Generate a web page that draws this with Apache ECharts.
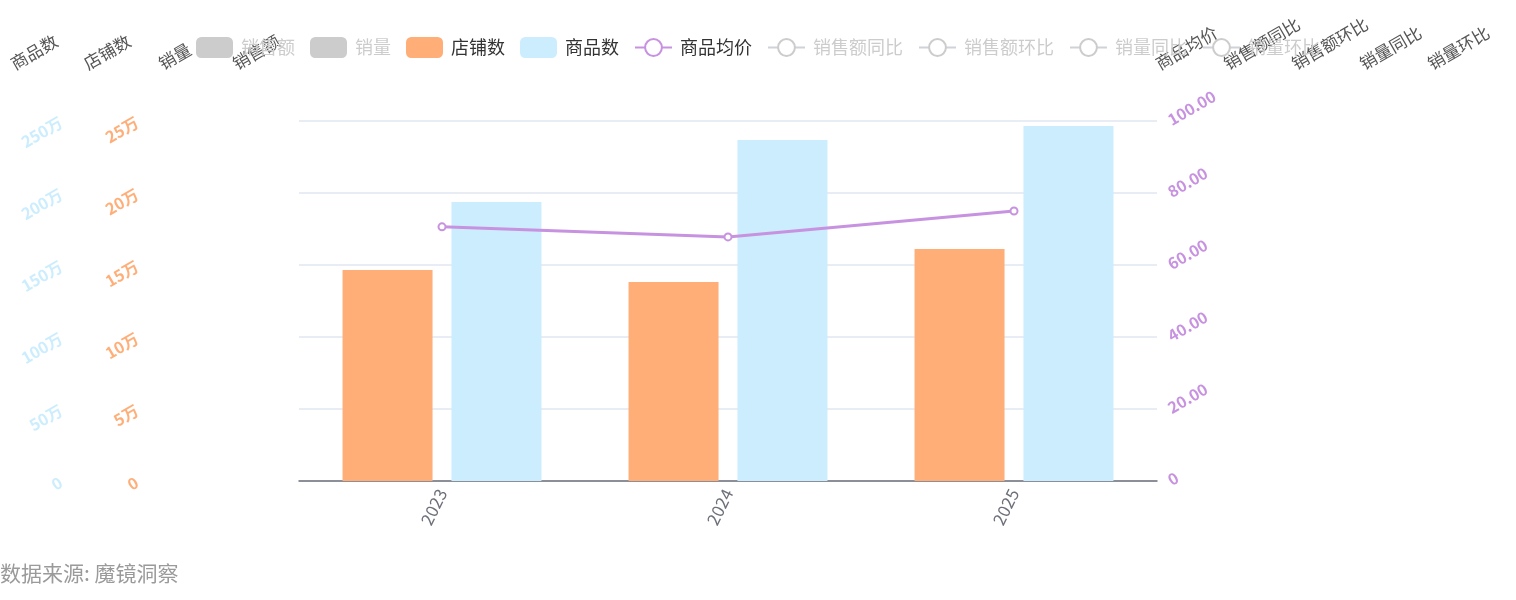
<!DOCTYPE html>
<html>
<head>
<meta charset="utf-8">
<script src="https://cdn.jsdelivr.net/npm/echarts@6/dist/echarts.min.js"></script>
<style>html,body{margin:0;padding:0;background:#fff}#c{width:1516px;height:600px}</style>
</head>
<body>
<div id="c"></div>
<script>
const years = ['2023', '2024', '2025'];
const salesAmount = [];      // 销售额 (hidden in legend)
const salesVolume = [];      // 销量 (hidden in legend)
const shopCount = [146500, 138200, 161100];        // 店铺数
const productCount = [1937000, 2368000, 2465000];  // 商品数
const avgPrice = [70.6, 67.8, 75.0];               // 商品均价
const amountYoY = [];   // 销售额同比 (hidden)
const amountMoM = [];   // 销售额环比 (hidden)
const volumeYoY = [];   // 销量同比 (hidden)
const volumeMoM = [];   // 销量环比 (hidden)

const FONT = '"Noto Sans CJK SC", "Noto Sans", sans-serif';
const C_SHOP = '#ffae78';
const C_PROD = '#ccedfd';
const C_PRICE = '#c792e0';
const NAME_COLOR = '#555';

function wan(v) { return v === 0 ? '0' : (v / 10000) + '万'; }
function dec2(v) { return v === 0 ? '0' : v.toFixed(2); }

function yAxisDef(pos, name, offset, extra) {
  return Object.assign({
    type: 'value', position: pos, offset: offset, name: name,
    nameLocation: 'end', nameGap: 56, nameRotate: 30,
    nameTextStyle: { color: NAME_COLOR, fontSize: 17, fontFamily: FONT },
    axisLine: { show: false }, axisTick: { show: false }, splitLine: { show: false },
    axisLabel: { show: false }
  }, extra || {});
}

const chart = echarts.init(document.getElementById('c'));
chart.setOption({
  animation: false,
  textStyle: { fontFamily: FONT },
  title: {
    text: '数据来源: 魔镜洞察', left: 0, top: 563, padding: 0,
    textStyle: { fontSize: 21, color: '#9a9a9a', fontWeight: 'normal', fontFamily: FONT }
  },
  legend: {
    top: 32, left: 'center', itemWidth: 37, itemHeight: 21, itemGap: 15,
    textStyle: { fontSize: 18, color: '#333', fontFamily: FONT, padding: [0, 0, 0, 3] },
    inactiveColor: '#ccc',
    data: ['销售额', '销量', '店铺数', '商品数', '商品均价', '销售额同比', '销售额环比', '销量同比', '销量环比'],
    selected: { '销售额': false, '销量': false, '销售额同比': false, '销售额环比': false, '销量同比': false, '销量环比': false }
  },
  grid: { left: 299, right: 359, top: 121, bottom: 119, containLabel: false },
  xAxis: {
    type: 'category', data: years,
    axisLine: { lineStyle: { color: '#6e7079', width: 1.5 } },
    axisTick: { alignWithLabel: true, lineStyle: { color: '#6e7079' } },
    axisLabel: { rotate: 64, color: '#6e7079', fontSize: 17, fontFamily: FONT, margin: 9 }
  },
  yAxis: [
    yAxisDef('left', '销售额', 65),
    yAxisDef('left', '销量', 139),
    yAxisDef('left', '店铺数', 214, { min: 0, max: 250000, interval: 50000,
      axisLabel: { show: true, rotate: 30, margin: -52, color: C_SHOP, fontSize: 16, fontWeight: 'bold', fontFamily: FONT, formatter: wan } }),
    yAxisDef('left', '商品数', 287, { min: 0, max: 2500000, interval: 500000,
      axisLabel: { show: true, rotate: 30, margin: -49, color: C_PROD, fontSize: 16, fontWeight: 'bold', fontFamily: FONT, formatter: wan } }),
    yAxisDef('right', '商品均价', 0, { min: 0, max: 100, interval: 20,
      splitLine: { show: true, lineStyle: { color: '#e0e6f1', width: 1.5 } },
      axisLabel: { show: true, rotate: 30, margin: 12, color: C_PRICE, fontSize: 16, fontWeight: 'bold', fontFamily: FONT, formatter: dec2 } }),
    yAxisDef('right', '销售额同比', 68),
    yAxisDef('right', '销售额环比', 136),
    yAxisDef('right', '销量同比', 204),
    yAxisDef('right', '销量环比', 272)
  ],
  series: [
    { name: '销售额', type: 'bar', yAxisIndex: 0, data: salesAmount, itemStyle: { color: '#5b8ff9' } },
    { name: '销量', type: 'bar', yAxisIndex: 1, data: salesVolume, itemStyle: { color: '#5ad8a6' } },
    { name: '店铺数', type: 'bar', yAxisIndex: 2, data: shopCount, barWidth: 90, barGap: '21%', itemStyle: { color: C_SHOP } },
    { name: '商品数', type: 'bar', yAxisIndex: 3, data: productCount, barWidth: 90, barGap: '21%', itemStyle: { color: C_PROD } },
    { name: '商品均价', type: 'line', yAxisIndex: 4, data: avgPrice, symbol: 'emptyCircle', symbolSize: 7,
      itemStyle: { color: C_PRICE, borderWidth: 2 }, lineStyle: { color: C_PRICE, width: 3 } },
    { name: '销售额同比', type: 'line', yAxisIndex: 5, data: amountYoY, symbol: 'emptyCircle', itemStyle: { color: '#f6bd16' } },
    { name: '销售额环比', type: 'line', yAxisIndex: 6, data: amountMoM, symbol: 'emptyCircle', itemStyle: { color: '#e8684a' } },
    { name: '销量同比', type: 'line', yAxisIndex: 7, data: volumeYoY, symbol: 'emptyCircle', itemStyle: { color: '#6dc8ec' } },
    { name: '销量环比', type: 'line', yAxisIndex: 8, data: volumeMoM, symbol: 'emptyCircle', itemStyle: { color: '#9270ca' } }
  ]
});
</script>
</body>
</html>
